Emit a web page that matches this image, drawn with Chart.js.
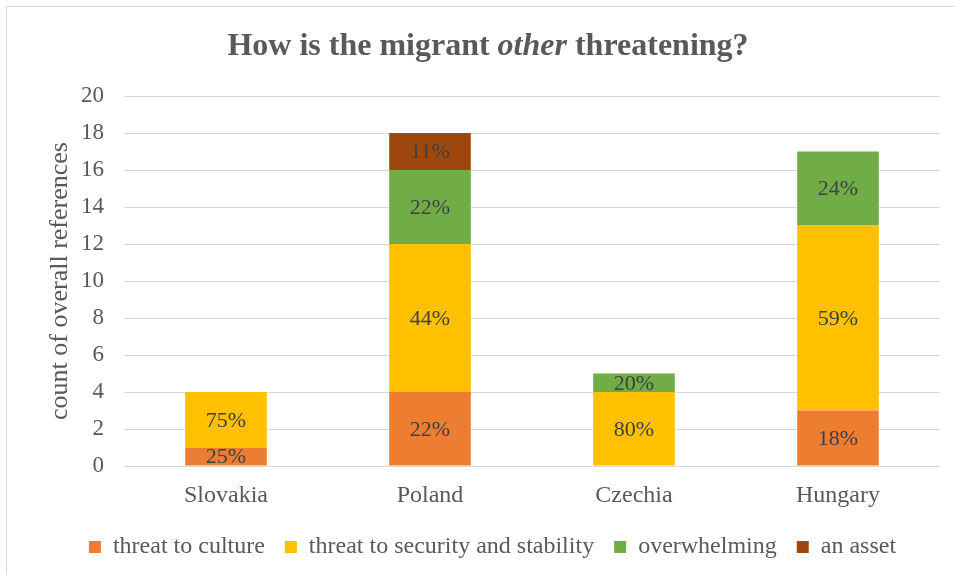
<!DOCTYPE html>
<html>
<head>
<meta charset="utf-8">
<script src="https://cdn.jsdelivr.net/npm/chart.js@4"></script>
<style>
  html, body { margin: 0; padding: 0; background: #fff; }
  #wrap { width: 955px; height: 575px; }
</style>
</head>
<body>
<div id="wrap"><canvas id="chart" width="955" height="575"></canvas></div>
<script>
const countries = ["Slovakia", "Poland", "Czechia", "Hungary"];
const culture = [1, 4, 0, 3];
const security = [3, 8, 4, 10];
const overwhelming = [0, 4, 1, 4];
const asset = [0, 2, 0, 0];

const FONT = "'Liberation Serif', 'Times New Roman', serif";
const grey = "#595959";

// totals per country, used for the percent labels
const totals = countries.map((c, i) => culture[i] + security[i] + overwhelming[i] + asset[i]);

// outer frame and the mixed bold / italic title
const frameAndTitle = {
  id: "frameAndTitle",
  afterInit(chart) {
    // keep the legend box tight to the bottom edge
    const legend = chart.legend;
    const fit = legend.fit;
    legend.fit = function () {
      fit.call(this);
      this.height = 60;
    };
  },
  beforeDraw(chart) {
    const ctx = chart.ctx;
    ctx.save();
    ctx.strokeStyle = "#D9D9D9";
    ctx.lineWidth = 1;
    ctx.strokeRect(6.5, 6.5, 1200, 1200);
    ctx.restore();
  },
  afterDraw(chart) {
    const ctx = chart.ctx;
    const parts = [
      ["How is the migrant ", "bold 32px " + FONT],
      ["other", "italic bold 32px " + FONT],
      [" threatening?", "bold 32px " + FONT]
    ];
    ctx.save();
    ctx.fillStyle = grey;
    ctx.textBaseline = "middle";
    let w = 0;
    for (const p of parts) { ctx.font = p[1]; w += ctx.measureText(p[0]).width; }
    let x = 488 - w / 2;
    for (const p of parts) {
      ctx.font = p[1];
      ctx.fillText(p[0], x, 47);
      x += ctx.measureText(p[0]).width;
    }
    ctx.restore();
  }
};

// percent of each bar's total, written in the middle of each segment
const segmentLabels = {
  id: "segmentLabels",
  afterDatasetsDraw(chart) {
    const ctx = chart.ctx;
    ctx.save();
    ctx.font = "22px " + FONT;
    ctx.fillStyle = "#404040";
    ctx.textAlign = "center";
    ctx.textBaseline = "middle";
    chart.data.datasets.forEach((ds, di) => {
      const meta = chart.getDatasetMeta(di);
      meta.data.forEach((bar, i) => {
        const v = ds.data[i];
        if (!v) return;
        const pct = Math.round(v / totals[i] * 100) + "%";
        ctx.fillText(pct, bar.x, (bar.y + bar.base) / 2 + 1);
      });
    });
    ctx.restore();
  }
};

new Chart(document.getElementById("chart"), {
  type: "bar",
  data: {
    labels: countries,
    datasets: [
      { label: "threat to culture", data: culture, backgroundColor: "#ED7D31" },
      { label: "threat to security and stability", data: security, backgroundColor: "#FFC000" },
      { label: "overwhelming", data: overwhelming, backgroundColor: "#70AD47" },
      { label: "an asset", data: asset, backgroundColor: "#9E480E" }
    ]
  },
  options: {
    responsive: false,
    animation: false,
    events: [],
    categoryPercentage: 1,
    barPercentage: 0.4,
    layout: { padding: { top: 96, left: 45, right: 15, bottom: 0 } },
    scales: {
      x: {
        stacked: true,
        grid: { display: false },
        border: { display: false },
        ticks: { color: grey, font: { family: FONT, size: 24 }, padding: 7 },
        afterFit(s) { s.height = 49; }
      },
      y: {
        stacked: true,
        min: 0,
        max: 20,
        grid: { color: "#D9D9D9", drawTicks: false },
        border: { display: false },
        ticks: { stepSize: 2, color: grey, font: { family: FONT, size: 23 }, padding: 20 },
        title: {
          display: true,
          text: "count of overall references",
          color: grey,
          font: { family: FONT, size: 26 },
          padding: 0
        },
        afterFit(s) { s.width = 79; }
      }
    },
    plugins: {
      legend: {
        position: "bottom",
        labels: {
          color: grey,
          font: { family: FONT, size: 24 },
          boxWidth: 12,
          boxHeight: 12,
          padding: 20
        }
      },
      tooltip: { enabled: false }
    }
  },
  plugins: [frameAndTitle, segmentLabels]
});
</script>
</body>
</html>
